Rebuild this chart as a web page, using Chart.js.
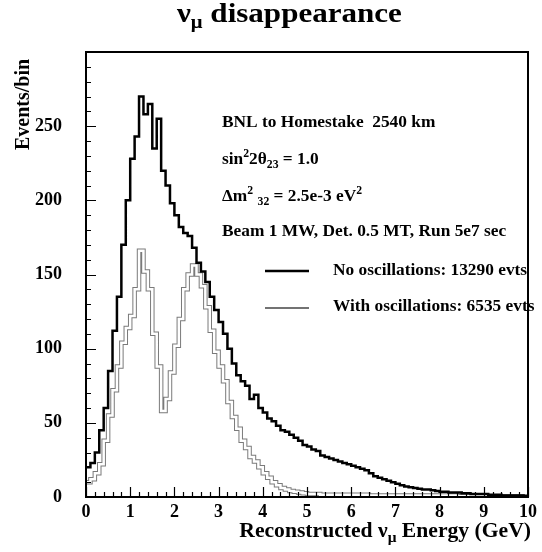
<!DOCTYPE html>
<html><head><meta charset="utf-8">
<script src="https://cdn.jsdelivr.net/npm/chart.js@4/dist/chart.umd.min.js"></script>
<style>html,body{margin:0;padding:0;background:#fff}</style>
</head><body>
<canvas id="c" width="542" height="552"></canvas>
<script>
// Bin low edges (0.1 GeV bins, 0..10 GeV)
const binEdges = Array.from({length: 101}, (_, i) => i / 10);

// No oscillations (events / bin)
const noOsc = [
  20, 23, 30, 45, 60, 85, 112, 135, 170, 200,
  228, 243, 270, 258, 265, 235, 255, 220, 210, 198,
  190, 182, 178, 176, 168, 158, 152, 145, 135, 126,
  118, 110, 100, 90, 82, 78, 75, 66, 69, 60,
  57, 53, 51, 48, 45, 44, 42, 40, 38, 35,
  34, 32, 31, 28, 27, 26, 25, 24, 23, 22,
  21, 20, 19, 18, 16, 14, 13, 12, 11, 10,
  9, 8, 7, 6.5, 6, 5.5, 5, 5, 4.5, 4,
  3.5, 3.5, 3, 3, 3, 2.5, 2.5, 2, 2, 2,
  2, 1.5, 1.5, 1.5, 1, 1, 1, 1, 1, 0.5
];

// With oscillations (events / bin)
const withOsc = [
  10, 12, 16, 22, 38, 55, 72, 88, 104, 114,
  122, 140, 166, 152, 140, 110, 88, 58, 66, 84,
  102, 120, 140, 150, 156, 150, 142, 128, 112, 98,
  88, 78, 64, 54, 46, 38, 33, 27, 24, 20,
  16, 13, 10, 8, 6, 5, 4, 3.5, 3, 2.5,
  2, 2, 2, 1.5, 1.5, 1.5, 1.5, 1.5, 1.5, 1.5,
  1.5, 1.5, 1.5, 1.5, 1, 1, 1, 1, 1, 1,
  1, 1, 1, 1, 1, 1, 1, 1, 1, 1,
  1, 1, 1, 1, 0.5, 0.5, 0.5, 0.5, 0.5, 0.5,
  0.5, 0.5, 0.5, 0.5, 0.5, 0.5, 0.5, 0.5, 0.5, 0.5
];

const xTickLabels = [0, 1, 2, 3, 4, 5, 6, 7, 8, 9, 10];
const yTickLabels = [0, 50, 100, 150, 200, 250];

const F = '"Liberation Serif", "Times New Roman", serif';

function toSteps(vals) {
  return binEdges.map((x, i) => ({x: x, y: i < vals.length ? vals[i] : vals[vals.length - 1]}));
}

function rich(ctx, x, y, parts, align, sx) {
  sx = sx || 1;
  let total = 0;
  parts.forEach(p => { ctx.font = `bold ${p[1]}px ${F}`; total += ctx.measureText(p[0]).width; });
  total *= sx;
  let start = align === 'right' ? x - total : (align === 'center' ? x - total / 2 : x);
  ctx.save();
  ctx.translate(start, y);
  ctx.scale(sx, 1);
  let cx = 0;
  parts.forEach(p => {
    ctx.font = `bold ${p[1]}px ${F}`;
    ctx.fillText(p[0], cx, (p[2] || 0));
    cx += ctx.measureText(p[0]).width;
  });
  ctx.restore();
}

const decor = {
  id: 'decor',
  afterDraw(chart) {
    const ctx = chart.ctx;
    const a = chart.chartArea;
    const xs = chart.scales.x, ys = chart.scales.y;
    ctx.save();
    ctx.strokeStyle = '#000';
    ctx.fillStyle = '#000';
    // frame
    ctx.lineWidth = 2;
    ctx.strokeRect(a.left, a.top, a.right - a.left, a.bottom - a.top);
    // inward ticks
    ctx.lineWidth = 1.2;
    ctx.beginPath();
    for (let v = 0; v <= 300; v += 10) {
      const p = Math.round(ys.getPixelForValue(v)) + 0.5;
      const len = v % 50 === 0 ? 10 : 5;
      ctx.moveTo(a.left, p); ctx.lineTo(a.left + len, p);
    }
    for (let i = 0; i <= 50; i++) {
      const p = Math.round(xs.getPixelForValue(i / 5)) + 0.5;
      const len = i % 5 === 0 ? 10 : 5;
      ctx.moveTo(p, a.bottom); ctx.lineTo(p, a.bottom - len);
    }
    ctx.stroke();

    ctx.textBaseline = 'alphabetic';
    // title
    rich(ctx, 177, 22, [['\u03BD', 27], ['\u03BC', 18, 6], [' disappearance', 27]], 'left', 1.15);
    // x title
    rich(ctx, 531, 537, [['Reconstructed ', 21], ['\u03BD', 21], ['\u03BC', 15, 5], [' Energy (GeV)', 21]], 'right', 1.03);
    // y title
    ctx.save();
    ctx.translate(29, 150);
    ctx.rotate(-Math.PI / 2);
    rich(ctx, 0, 0, [['Events/bin', 20]], 'left');
    ctx.restore();

    // annotations
    const S = 17, s = 11.5, k = 1.02;
    rich(ctx, 222, 127, [['BNL to Homestake  2540 km', S]], 'left', k);
    rich(ctx, 222, 164, [['sin', S], ['2', s, -7], ['2\u03B8', S], ['23', s, 4], [' = 1.0', S]], 'left', k);
    rich(ctx, 222, 201, [['\u0394m', S], ['2', s, -7], [' ', S], ['32', s, 4], [' = 2.5e-3 eV', S], ['2', s, -7]], 'left', k);
    rich(ctx, 222, 236, [['Beam 1 MW, Det. 0.5 MT, Run 5e7 sec', S]], 'left', k);
    rich(ctx, 333, 275, [['No oscillations: 13290 evts', S]], 'left', k);
    rich(ctx, 333, 311, [['With oscillations: 6535 evts', S]], 'left', k);
    // legend lines
    ctx.lineWidth = 2.5;
    ctx.strokeStyle = '#000';
    ctx.beginPath(); ctx.moveTo(265, 271); ctx.lineTo(309, 271); ctx.stroke();
    ctx.lineWidth = 1.5;
    ctx.strokeStyle = '#444';
    ctx.beginPath(); ctx.moveTo(265, 308); ctx.lineTo(309, 308); ctx.stroke();
    ctx.restore();
  }
};

new Chart(document.getElementById('c'), {
  type: 'line',
  data: {
    datasets: [
      { label: 'No oscillations: 13290 evts', data: toSteps(noOsc), stepped: true,
        borderColor: '#000', borderWidth: 2.5, pointRadius: 0, fill: false, order: 1 },
      { label: 'With oscillations (inner)', data: toSteps(withOsc), stepped: true,
        borderColor: '#fff', borderWidth: 2.5, pointRadius: 0, fill: false, order: 2 },
      { label: 'With oscillations: 6535 evts', data: toSteps(withOsc), stepped: true,
        borderColor: '#7a7a7a', borderWidth: 4.5, pointRadius: 0, fill: false, order: 3 }
    ]
  },
  options: {
    responsive: false,
    animation: false,
    devicePixelRatio: 1,
    layout: { padding: { left: 0, right: 11, top: 52, bottom: 0 } },
    plugins: { legend: { display: false }, title: { display: false }, tooltip: { enabled: false } },
    scales: {
      x: {
        type: 'linear', min: 0, max: 10,
        afterBuildTicks: sc => { sc.ticks = xTickLabels.map(v => ({value: v})); },
        afterFit: sc => { sc.height = 55; },
        grid: { display: false, drawTicks: false },
        border: { display: false },
        ticks: { padding: 5, color: '#000', font: { family: F, size: 18, weight: 'bold' }, maxRotation: 0, autoSkip: false }
      },
      y: {
        type: 'linear', min: 0, max: 300,
        afterBuildTicks: sc => { sc.ticks = yTickLabels.map(v => ({value: v})); },
        afterFit: sc => { sc.width = 86; },
        grid: { display: false, drawTicks: false },
        border: { display: false },
        ticks: { padding: 24, color: '#000', font: { family: F, size: 18, weight: 'bold' } }
      }
    }
  },
  plugins: [decor]
});
</script>
</body></html>
